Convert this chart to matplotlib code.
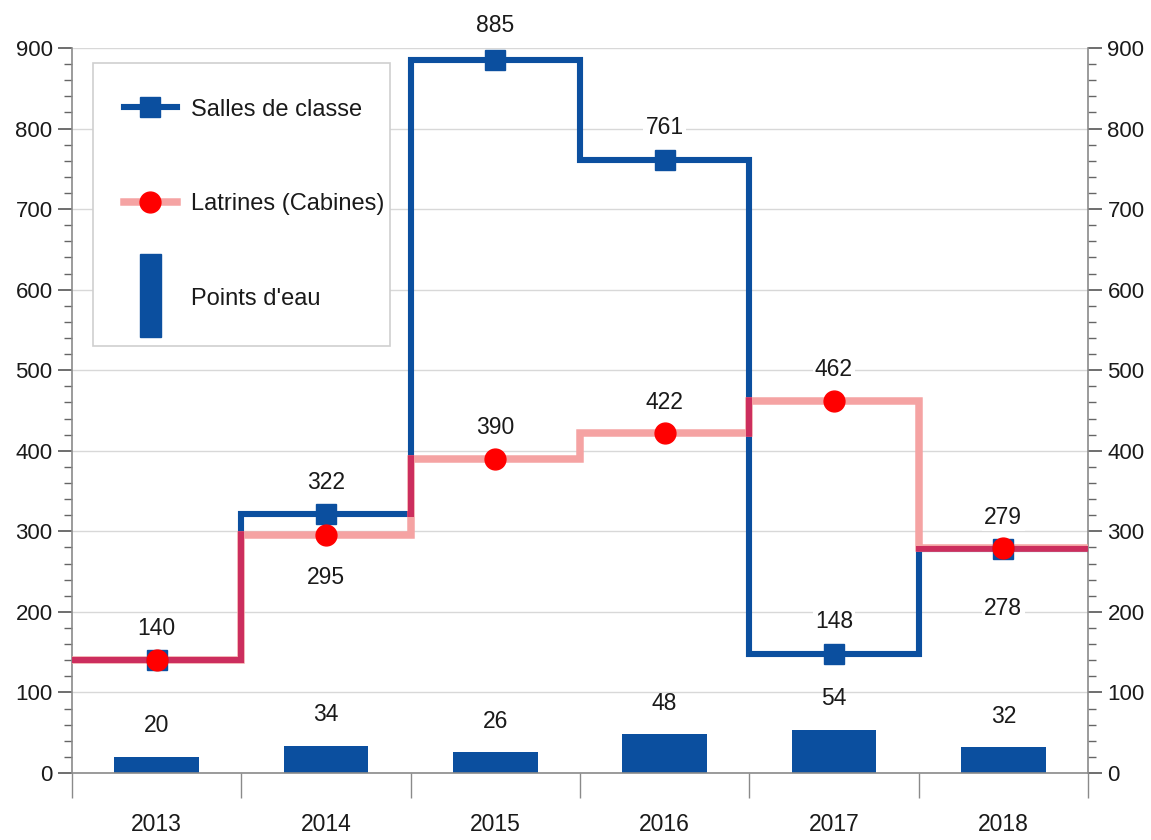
import numpy as np
import matplotlib
matplotlib.use("Agg")
import matplotlib.pyplot as plt
from matplotlib.patches import Rectangle
from matplotlib.lines import Line2D
from matplotlib.path import Path
from matplotlib.transforms import IdentityTransform
from matplotlib.legend_handler import HandlerPatch, HandlerLine2D
from matplotlib.ticker import MultipleLocator, FixedLocator

plt.rcParams['font.family'] = ['Liberation Sans', 'DejaVu Sans']

# ---------------- data ----------------
years = ["2013", "2014", "2015", "2016", "2017", "2018"]
salles = [140, 322, 885, 761, 148, 278]
latrines = [140, 295, 390, 422, 462, 279]
points_eau = [20, 34, 26, 48, 54, 32]

# label offsets in pixels (positive = above the point)
salles_offsets = [32, 31, 35, 32, 32, -59]
latrines_offsets = [32, -42, 31, 31, 31, 31]
bar_offset = 31

BLUE = "#0b4f9f"
PINK = "#f5a3a3"
CRIMSON = "#cc2e5e"
RED = "#ff0000"
TXT = "#1a1a1a"
FS = 16.5
FS_TICK = 16
FS_LEG = 17
LW_BLUE = 4.4
LW_PINK = 5.4
DPI = 100

fig = plt.figure(figsize=(11.51, 8.40), dpi=DPI)
ax = fig.add_axes([72 / 1151, 1 - 773 / 840, (1088 - 72) / 1151, (773 - 48) / 840])

x = np.arange(len(years))
edges = np.arange(len(years) + 1) - 0.5

# axes limits first (needed for clip computation)
ax.set_xlim(-0.5, len(years) - 0.5)
ax.set_ylim(0, 900)

# bars
ax.bar(x, points_eau, width=0.5, color=BLUE, zorder=2)

# step lines
st1 = ax.stairs(salles, edges, baseline=None, color=BLUE, linewidth=LW_BLUE, zorder=3)
st1.set_joinstyle('miter')
st2 = ax.stairs(latrines, edges, baseline=None, color=PINK, linewidth=LW_PINK, zorder=4)
st2.set_joinstyle('miter')

# where the latrines line lies over the classrooms line it shows darker (crimson)
verts = ax.transData.transform(st1.get_path().vertices)
half = LW_BLUE * DPI / 72 / 2
cverts, ccodes = [], []
for (x0, y0), (x1, y1) in zip(verts[:-1], verts[1:]):
    xa, xb = min(x0, x1) - half, max(x0, x1) + half
    ya, yb = min(y0, y1) - half, max(y0, y1) + half
    cverts += [(xa, ya), (xb, ya), (xb, yb), (xa, yb), (xa, ya)]
    ccodes += [Path.MOVETO, Path.LINETO, Path.LINETO, Path.LINETO, Path.CLOSEPOLY]
clip = Path(cverts, ccodes)
st3 = ax.stairs(latrines, edges, baseline=None, color=CRIMSON, linewidth=LW_PINK, zorder=4.5)
st3.set_joinstyle('miter')
st3.set_clip_path(clip, IdentityTransform())

# markers
ax.plot(x, salles, linestyle='none', marker='s', markersize=14, color=BLUE, zorder=5)
ax.plot(x, latrines, linestyle='none', marker='o', markersize=15, color=RED, zorder=6)

bbox = dict(boxstyle='square,pad=0.1', facecolor='white', edgecolor='none')


def label(xv, yv, dy):
    ax.annotate(str(yv), (xv, yv), xytext=(0, dy), textcoords='offset pixels',
                ha='center', va='center', fontsize=FS, color=TXT, bbox=bbox,
                zorder=7, annotation_clip=False)


for xi, v, d in zip(x, salles, salles_offsets):
    label(xi, v, d)
for xi, v, d in zip(x, latrines, latrines_offsets):
    label(xi, v, d)
for xi, v in zip(x, points_eau):
    ax.annotate(str(v), (xi, v), xytext=(0, bar_offset), textcoords='offset pixels',
                ha='center', va='center', fontsize=FS, color=TXT, zorder=7)

# axes styling
ax.yaxis.set_major_locator(MultipleLocator(100))
ax.yaxis.set_minor_locator(MultipleLocator(20))
ax.set_xticks(x)
ax.set_xticklabels(years)
ax.xaxis.set_minor_locator(FixedLocator(edges))

ax.grid(axis='y', which='major', color='#d8d8d8', linewidth=1.0, zorder=0)
ax.set_axisbelow(True)

ax.spines['top'].set_visible(False)
for s in ['left', 'right', 'bottom']:
    ax.spines[s].set_color('#8a8a8a')
    ax.spines[s].set_linewidth(1.2)

ax.tick_params(axis='y', which='major', length=10, width=1.2, color='#555555',
               labelsize=FS_TICK, labelcolor=TXT, pad=4, left=True, right=True,
               labelleft=True, labelright=True)
ax.tick_params(axis='y', which='minor', length=6, width=1.0, color='#666666',
               left=True, right=True)
ax.tick_params(axis='x', which='major', length=0, labelsize=FS, labelcolor=TXT, pad=29)
ax.tick_params(axis='x', which='minor', length=18, width=1.0, color='#8a8a8a')

# legend
XPAD = 1.06
YSHIFT = 0.63


class ShiftedLine(HandlerLine2D):
    def create_artists(self, legend, orig_handle, xdescent, ydescent, width,
                       height, fontsize, trans):
        arts = super().create_artists(legend, orig_handle, xdescent, ydescent,
                                      width, height, fontsize, trans)
        for a in arts:
            a.set_ydata(np.asarray(a.get_ydata(), dtype=float) - YSHIFT * fontsize)
        return arts


def narrow_bar(legend, orig_handle, xdescent, ydescent, width, height, fontsize):
    w = 21 * 72 / 100
    h = 83 * 72 / 100
    cx = -xdescent + (width + XPAD * fontsize) / 2
    cy = (height - ydescent) / 2 - YSHIFT * fontsize
    return Rectangle((cx - w / 2, cy - h / 2), w, h)


h1 = Line2D([], [], color=BLUE, linewidth=LW_BLUE, marker='s', markersize=14)
h2 = Line2D([], [], color=PINK, linewidth=LW_PINK, marker='o', markersize=15,
            markerfacecolor=RED, markeredgecolor=RED)
h3 = Rectangle((0, 0), 1, 1, color=BLUE)
leg = ax.legend([h1, h2, h3], ["Salles de classe", "Latrines (Cabines)", "Points d'eau"],
                loc='upper left', bbox_to_anchor=(21 / 1016, 1 - 15 / 725),
                borderaxespad=0, fontsize=FS_LEG, frameon=True, fancybox=False,
                edgecolor='#cfcfcf', facecolor='white', framealpha=1,
                handlelength=3.3, handleheight=5.0, labelspacing=0.5,
                handletextpad=0.6, borderpad=0.25, numpoints=1,
                handler_map={Rectangle: HandlerPatch(patch_func=narrow_bar),
                             Line2D: ShiftedLine(xpad=XPAD)})
leg.get_frame().set_linewidth(1.2)
for t in leg.get_texts():
    t.set_color(TXT)
leg.set_zorder(10)

fig.savefig("out.png", dpi=DPI)
